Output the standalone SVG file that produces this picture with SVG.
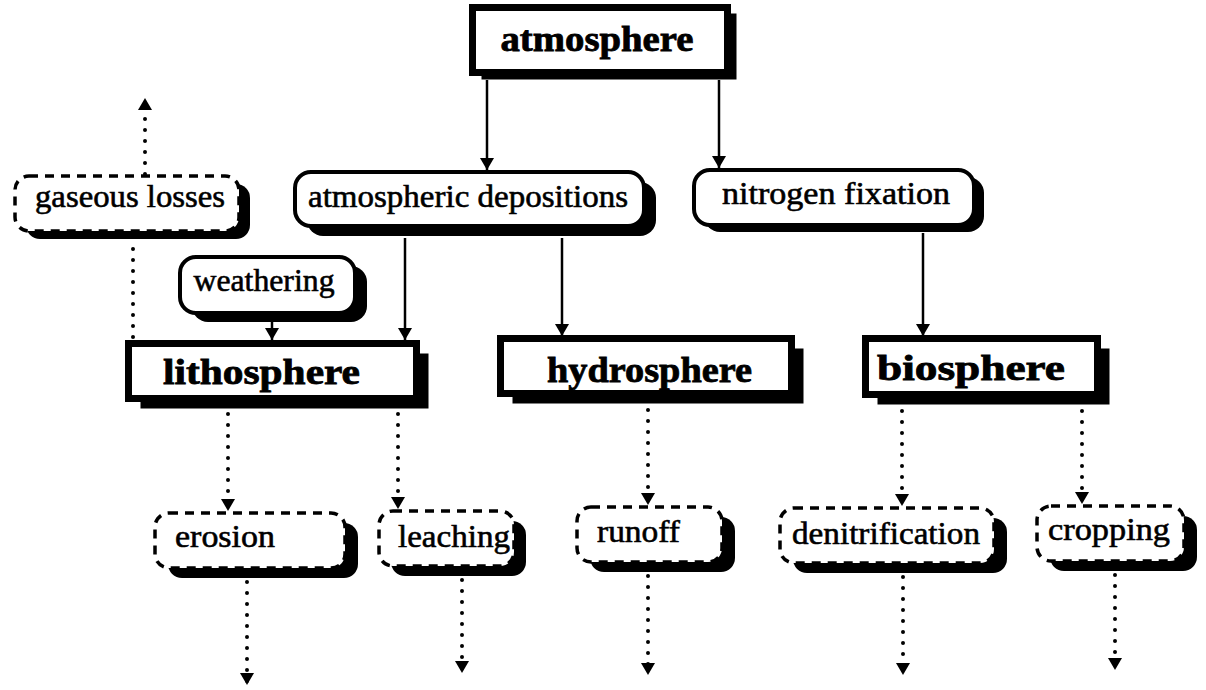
<svg xmlns="http://www.w3.org/2000/svg" width="1206" height="690" viewBox="0 0 1206 690">
<style>
.sh{fill:#000}
.bx{fill:#fff;stroke:#000;stroke-width:7}
.rb{fill:#fff;stroke:#000;stroke-width:4}
.db{fill:#fff;stroke:#000;stroke-width:3.5;stroke-dasharray:9 7}
.bt{font-family:"Liberation Serif","Times New Roman",serif;font-weight:bold;font-size:36px;fill:#000;stroke:#000;stroke-width:0.8;text-anchor:middle}
.rt{font-family:"Liberation Serif","Times New Roman",serif;font-size:32px;fill:#000;stroke:#000;stroke-width:0.6;text-anchor:middle}
.sl{stroke:#000;stroke-width:2.5;fill:none}
.dl{stroke:#000;stroke-width:4;fill:none;stroke-dasharray:0 11;stroke-linecap:round}
</style>
<defs>
<marker id="ah" viewBox="0 0 12 14" refX="12" refY="7" markerWidth="12" markerHeight="14" orient="auto" markerUnits="userSpaceOnUse"><path d="M0,0 L12,7 L0,14 z" fill="#000"/></marker>
</defs>
<rect width="1206" height="690" fill="#fff"/>

<g id="atmosphere">
<rect class="sh" x="481.5" y="13.5" width="255" height="66"/>
<rect class="bx" x="472.5" y="7.5" width="255" height="65"/>
<text class="bt" x="597" y="51" textLength="193" lengthAdjust="spacingAndGlyphs">atmosphere</text>
</g>

<g id="gaseous-losses">
<rect class="sh" x="26" y="184" width="224" height="55" rx="14"/>
<rect class="db" x="15" y="176" width="224" height="55" rx="14"/>
<text class="rt" x="130" y="207" textLength="190" lengthAdjust="spacingAndGlyphs">gaseous losses</text>
</g>

<g id="atmospheric-depositions">
<rect class="sh" x="307" y="182" width="349" height="54" rx="16"/>
<rect class="rb" x="295" y="172" width="349" height="54" rx="16"/>
<text class="rt" x="468" y="207" textLength="320" lengthAdjust="spacingAndGlyphs">atmospheric depositions</text>
</g>

<g id="nitrogen-fixation">
<rect class="sh" x="704" y="177" width="280" height="55" rx="16"/>
<rect class="rb" x="694" y="170" width="280" height="55" rx="16"/>
<text class="rt" x="836" y="204" textLength="228" lengthAdjust="spacingAndGlyphs">nitrogen fixation</text>
</g>

<g id="weathering">
<rect class="sh" x="192" y="266" width="175" height="56" rx="16"/>
<rect class="rb" x="180" y="257" width="175" height="56" rx="16"/>
<text class="rt" x="264" y="291" textLength="141" lengthAdjust="spacingAndGlyphs">weathering</text>
</g>

<g id="lithosphere">
<rect class="sh" x="140.5" y="353.5" width="288" height="55"/>
<rect class="bx" x="128.5" y="343.5" width="288" height="55"/>
<text class="bt" x="261.5" y="384" textLength="197" lengthAdjust="spacingAndGlyphs">lithosphere</text>
</g>

<g id="hydrosphere">
<rect class="sh" x="512.5" y="348.5" width="291" height="55"/>
<rect class="bx" x="500.5" y="338.5" width="291" height="55"/>
<text class="bt" x="649.5" y="382" textLength="205" lengthAdjust="spacingAndGlyphs">hydrosphere</text>
</g>

<g id="biosphere">
<rect class="sh" x="877.5" y="348.5" width="232" height="56"/>
<rect class="bx" x="865.5" y="338.5" width="232" height="56"/>
<text class="bt" x="971" y="380" textLength="188" lengthAdjust="spacingAndGlyphs">biosphere</text>
</g>

<g id="erosion">
<rect class="sh" x="168" y="523" width="190" height="55" rx="14"/>
<rect class="db" x="155" y="513" width="190" height="55" rx="14"/>
<text class="rt" x="225" y="547" textLength="100" lengthAdjust="spacingAndGlyphs">erosion</text>
</g>

<g id="leaching">
<rect class="sh" x="391" y="521" width="135" height="55" rx="14"/>
<rect class="db" x="379" y="511" width="135" height="55" rx="14"/>
<text class="rt" x="454" y="547" textLength="112" lengthAdjust="spacingAndGlyphs">leaching</text>
</g>

<g id="runoff">
<rect class="sh" x="590" y="517" width="145" height="55" rx="14"/>
<rect class="db" x="577" y="507" width="145" height="55" rx="14"/>
<text class="rt" x="638.5" y="542" textLength="83" lengthAdjust="spacingAndGlyphs">runoff</text>
</g>

<g id="denitrification">
<rect class="sh" x="793" y="518" width="214" height="55" rx="14"/>
<rect class="db" x="780" y="508" width="214" height="55" rx="14"/>
<text class="rt" x="886" y="544" textLength="188" lengthAdjust="spacingAndGlyphs">denitrification</text>
</g>

<g id="cropping">
<rect class="sh" x="1050" y="516" width="147" height="55" rx="14"/>
<rect class="db" x="1037" y="506" width="147" height="55" rx="14"/>
<text class="rt" x="1109" y="540" textLength="122" lengthAdjust="spacingAndGlyphs">cropping</text>
</g>

<g id="connectors">
<line class="sl" x1="487" y1="80" x2="487" y2="170" marker-end="url(#ah)"/>
<line class="sl" x1="719" y1="80" x2="719" y2="168" marker-end="url(#ah)"/>
<line class="sl" x1="405" y1="238" x2="405" y2="340" marker-end="url(#ah)"/>
<line class="sl" x1="562" y1="238" x2="562" y2="336" marker-end="url(#ah)"/>
<line class="sl" x1="923" y1="233" x2="923" y2="336" marker-end="url(#ah)"/>
<line class="sl" x1="272" y1="322" x2="272" y2="340" marker-end="url(#ah)"/>
<line class="dl" x1="145" y1="174" x2="145" y2="98" marker-end="url(#ah)"/>
<line class="dl" x1="133" y1="337" x2="133" y2="243"/>
<line class="dl" x1="228" y1="414" x2="228" y2="511" marker-end="url(#ah)"/>
<line class="dl" x1="398" y1="414" x2="398" y2="509" marker-end="url(#ah)"/>
<line class="dl" x1="648" y1="410" x2="648" y2="505" marker-end="url(#ah)"/>
<line class="dl" x1="902" y1="411" x2="902" y2="506" marker-end="url(#ah)"/>
<line class="dl" x1="1082" y1="411" x2="1082" y2="504" marker-end="url(#ah)"/>
<line class="dl" x1="247" y1="582" x2="247" y2="685" marker-end="url(#ah)"/>
<line class="dl" x1="462" y1="580" x2="462" y2="673" marker-end="url(#ah)"/>
<line class="dl" x1="648" y1="576" x2="648" y2="675" marker-end="url(#ah)"/>
<line class="dl" x1="903" y1="577" x2="903" y2="675" marker-end="url(#ah)"/>
<line class="dl" x1="1115" y1="575" x2="1115" y2="670" marker-end="url(#ah)"/>
</g>
</svg>
